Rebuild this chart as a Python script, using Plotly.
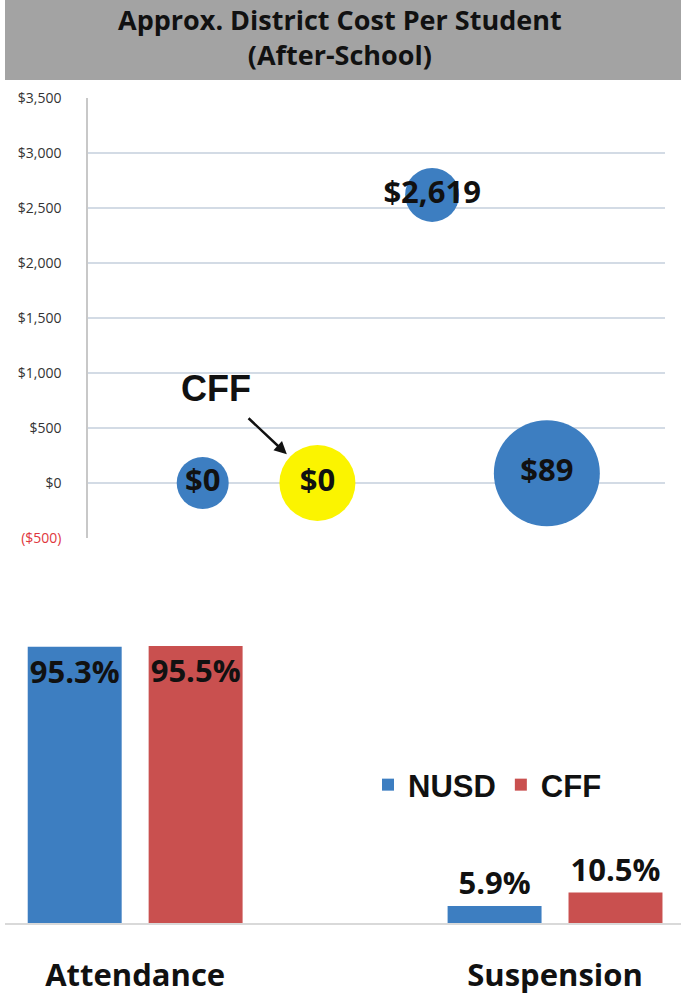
import plotly.graph_objects as go

# ---------------- data ----------------
title_text = "Approx. District Cost Per Student<br>(After-School)"

bubble_x = [1, 2, 3, 4]
bubble_cost = [0, 0, 2619, 89]
bubble_labels = ["$0", "$0", "$2,619", "$89"]
bubble_weight = [52, 76, 54, 106]

cost_tickvals = [-500, 0, 500, 1000, 1500, 2000, 2500, 3000, 3500]
cost_ticktext = ["<span style='color:#e0363c'>($500)</span>", "$0", "$500", "$1,000",
                 "$1,500", "$2,000", "$2,500", "$3,000", "$3,500"]

metric_categories = ["Attendance", "Suspension"]
series_names = ["NUSD", "CFF"]
nusd_values = [95.3, 5.9]
cff_values = [95.5, 10.5]

# ---------------- styles ----------------
BLUE = "#3d7ec1"
RED = "#c9504f"
YELLOW = "#fbf400"
bubble_colors = [BLUE, YELLOW, BLUE, BLUE]
DARK = "#111111"

W, H = 681, 994

fig = go.Figure()

fig.add_trace(go.Scatter(
    x=bubble_x, y=bubble_cost, text=bubble_labels,
    mode="markers+text", textposition="middle center",
    marker=dict(size=bubble_weight, sizemode="diameter", color=bubble_colors,
                opacity=1, line=dict(width=0)),
    textfont=dict(family="Open Sans", size=31, weight="bold", color=DARK),
    xaxis="x", yaxis="y", showlegend=False, hoverinfo="skip", cliponaxis=False,
))

for name, vals, col in [(series_names[0], nusd_values, BLUE), (series_names[1], cff_values, RED)]:
    fig.add_trace(go.Bar(
        x=metric_categories, y=vals, name=name, marker=dict(color=col, line=dict(width=0)),
        text=[f"{v:.1f}%" for v in vals], textposition=["inside", "outside"],
        insidetextanchor="end", constraintext="none", textangle=0, cliponaxis=False,
        textfont=dict(family="Open Sans", size=31, weight="bold", color=DARK),
        xaxis="x2", yaxis="y2", hoverinfo="skip",
    ))

fig.update_layout(
    width=W, height=H, margin=dict(l=0, r=0, t=0, b=0, autoexpand=False),
    paper_bgcolor="white", plot_bgcolor="white",
    barmode="group", bargap=0.424, bargroupgap=0.223,
    xaxis=dict(domain=[88 / W, 665 / W], range=[0, 5.03], showticklabels=False,
               showgrid=False, zeroline=False, showline=False, ticks="", anchor="y",
               automargin=False),
    yaxis=dict(domain=[1 - 538 / H, 1 - 98 / H], range=[-500, 3500],
               tickvals=cost_tickvals, ticktext=cost_ticktext,
               showgrid=True, gridcolor="#d3dbe5", gridwidth=1.5, zeroline=False,
               showline=True, linecolor="#c8c8c8", linewidth=1.5, ticks="",
               tickfont=dict(family="Open Sans", size=14, color="#333333"),
               ticklabelstandoff=22, anchor="x", automargin=False),
    xaxis2=dict(domain=[5 / W, 1], type="category", range=[-0.31, 1.3],
                showline=True, linecolor="#d9d9d9", linewidth=2, showgrid=False,
                zeroline=False, ticks="",
                tickfont=dict(family="Open Sans", size=31, weight="bold", color=DARK),
                ticklabelstandoff=24, anchor="y2", automargin=False),
    yaxis2=dict(domain=[1 - 923 / H, 1 - 633 / H], range=[0, 100], visible=False,
                anchor="x2", automargin=False),
    legend=dict(orientation="h", x=368 / W, y=1 - 785 / H, xanchor="left", yanchor="middle",
                font=dict(family="Liberation Sans", size=31, weight="bold", color=DARK),
                itemwidth=30, bgcolor="rgba(0,0,0,0)", traceorder="normal"),
    shapes=[dict(type="rect", xref="paper", yref="paper", x0=5 / W, x1=1,
                 y0=1 - 80 / H, y1=1, fillcolor="#a3a3a3", line=dict(width=0), layer="below")],
    annotations=[
        dict(text=title_text, xref="paper", yref="paper", x=340 / W, y=1 - 37 / H,
             xanchor="center", yanchor="middle", showarrow=False,
             font=dict(family="Open Sans", size=27, weight="bold", color=DARK)),
        dict(text="CFF", xref="x", yref="y", x=bubble_x[1], y=bubble_cost[1],
             ax=-101, ay=-95, showarrow=True, arrowhead=2, arrowsize=1, arrowwidth=2.5,
             arrowcolor=DARK, standoff=42, startstandoff=12,
             font=dict(family="Liberation Sans", size=36, weight="bold", color=DARK)),
    ],
)

fig.write_html("out.html", config={"displayModeBar": False},
               post_script="document.body.style.margin='0';document.body.style.overflow='hidden';")
